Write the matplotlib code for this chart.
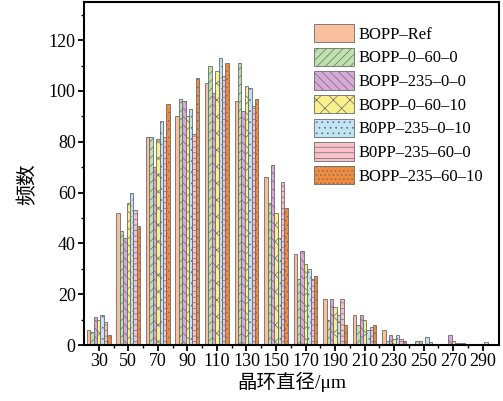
import matplotlib
matplotlib.use('Agg')
import matplotlib.pyplot as plt
import numpy as np


# diâmetro dos cristais (centro de cada classe) e frequências de cada amostra
diameters = [30, 50, 70, 90, 110, 130, 150, 170, 190, 210, 230, 250, 270, 290]

bopp_ref = [6, 52, 82, 90, 103, 96, 66, 36, 18, 12, 6, 0.5, 0, 0]
bopp_0_60_0 = [5, 45, 82, 97, 110, 111, 56, 26, 10, 8, 1.5, 1.5, 0.5, 0]
bopp_235_0_0 = [11, 42, 70, 96, 99, 92, 71, 37, 18, 12, 4, 1.5, 4, 0]
bopp_0_60_10 = [10, 56, 81, 90, 108, 102, 52, 32, 15, 10, 2.5, 0.5, 1.5, 0]
bopp_235_0_10 = [12, 60, 88, 93, 113, 101, 42, 30, 12, 6, 4, 3, 0.7, 1]
bopp_235_60_0 = [9, 53, 82, 83, 106, 94, 64, 26, 18, 7, 2.5, 1, 0.7, 0]
bopp_235_60_10 = [4, 47, 95, 105, 111, 97, 54, 27, 8, 8, 1.5, 0, 0.7, 0]

labels = ['BOPP–Ref', 'BOPP–0–60–0', 'BOPP–235–0–0', 'BOPP–0–60–10',
          'B0PP–235–0–10', 'B0PP–235–60–0', 'BOPP–235–60–10']
series = [bopp_ref, bopp_0_60_0, bopp_235_0_0, bopp_0_60_10,
          bopp_235_0_10, bopp_235_60_0, bopp_235_60_10]
colors = ['#fac09e', '#bde2ad', '#d8aad9', '#f9f08c',
          '#bfe5f6', '#f9c1cc', '#f28b3d']
hatches = ['', '////', '\\\\\\\\', 'xx', '...', '---', '....']


def main():
    plt.rcParams['font.family'] = ['Liberation Serif', 'Noto Sans CJK SC']
    plt.rcParams['hatch.linewidth'] = 0.5
    plt.rcParams['axes.unicode_minus'] = False

    fig = plt.figure(figsize=(5.03, 4.01), dpi=100)
    ax = fig.add_axes([84 / 503, 56 / 401, 415 / 503, 343 / 401])

    x = np.array(diameters)
    width = 2.3
    for i, (y, label) in enumerate(zip(series, labels)):
        ax.bar(x + (i - 3) * width, y, width, label=label,
               color=colors[i], hatch=hatches[i],
               edgecolor='#6b6b6b', linewidth=0.6)

    ax.set_xlim(20, 301)
    ax.set_ylim(0, 135)
    ax.set_xticks(diameters)
    ax.set_xticks(np.arange(40, 300, 20), minor=True)
    ax.set_yticks(np.arange(0, 121, 20))
    ax.set_yticks(np.arange(10, 131, 20), minor=True)
    ax.tick_params(which='major', direction='out', length=4, width=1.3,
                   labelsize=13, pad=2)
    ax.tick_params(which='minor', direction='out', length=2.5, width=1.0)
    for spine in ax.spines.values():
        spine.set_linewidth(1.5)

    ax.set_xlabel('晶环直径/μm', fontsize=14, labelpad=1)
    ax.set_ylabel('频数', fontsize=15)
    ax.yaxis.set_label_coords(-0.11, 0.47)

    ax.legend(loc='upper left', bbox_to_anchor=(0.533, 0.96),
              frameon=False, fontsize=12, borderpad=0,
              handlelength=2.4, handleheight=1.3,
              handletextpad=0.3, labelspacing=0.3)

    fig.savefig('out.png', dpi=100)


if __name__ == '__main__':
    main()
